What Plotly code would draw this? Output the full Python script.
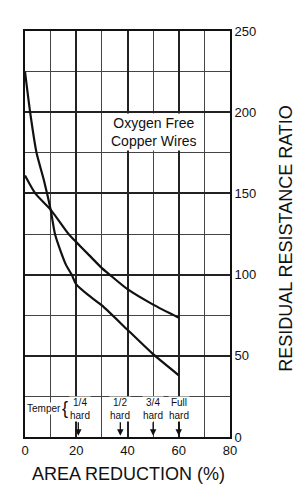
import plotly.graph_objects as go

# Data
area_a = [0, 2, 4.5, 7.4, 10, 11.7, 14, 16, 18.2, 20, 25, 30, 40, 50, 60]
rrr_a = [225, 200, 175, 158, 140, 125, 114, 106, 100, 94, 87, 81, 66, 51, 38]
area_b = [0, 4, 10, 17, 20, 25, 30, 33, 40, 50, 60]
rrr_b = [161, 150, 140, 125, 120, 112, 104, 100, 91, 81.5, 73.5]

x_ticks = [0, 20, 40, 60, 80]
y_ticks = [0, 50, 100, 150, 200, 250]

temper_labels = ["1/4<br>hard", "1/2<br>hard", "3/4<br>hard", "Full<br>hard"]
temper_pos = [20.8, 37.2, 50, 60]
temper_text_shift = [2, 0, 0, 0]

FONT = "Liberation Sans, Arial, Helvetica, sans-serif"

fig = go.Figure()
for xs, ys in [(area_a, rrr_a), (area_b, rrr_b)]:
    fig.add_trace(go.Scatter(x=xs, y=ys, mode="lines",
                             line=dict(color="#111", width=2.2, shape="spline", smoothing=0.6),
                             showlegend=False, hoverinfo="skip"))

ann = []
ann.append(dict(x=50.3, y=187.6, xref="x", yref="y", text="Oxygen Free<br>Copper Wires",
                showarrow=False, font=dict(size=14, color="#111"), bgcolor="white"))
for lab, pos, sh in zip(temper_labels, temper_pos, temper_text_shift):
    ann.append(dict(x=pos, y=17.5, xref="x", yref="y", text=lab, showarrow=False, xshift=sh,
                    font=dict(size=10, color="#111"), bgcolor="white", borderpad=0))
    ann.append(dict(x=pos, y=0.8, xref="x", yref="y", ax=pos, ay=10, axref="x", ayref="y",
                    text="", showarrow=True, arrowhead=2, arrowsize=1, arrowwidth=1.3,
                    arrowcolor="#111"))
ann.append(dict(x=7.6, y=17.4, xref="x", yref="y", text="Temper", showarrow=False,
                font=dict(size=10, color="#111"), bgcolor="white", borderpad=0))
ann.append(dict(x=15.6, y=17.8, xref="x", yref="y", text="{", showarrow=False,
                font=dict(size=18, color="#111"), bgcolor="white", borderpad=0))
ann.append(dict(x=1.275, y=0.489, xref="paper", yref="paper", text="RESIDUAL RESISTANCE RATIO",
                xanchor="center", yanchor="middle",
                textangle=-90, showarrow=False, font=dict(size=18, color="#111")))
ann.append(dict(x=0.507, y=-0.091, xref="paper", yref="paper", text="AREA REDUCTION (%)",
                xanchor="center", yanchor="middle",
                showarrow=False, font=dict(size=18, color="#111")))

fig.update_layout(
    width=306, height=500,
    margin=dict(l=25, r=76, t=31, b=63),
    paper_bgcolor="white", plot_bgcolor="white",
    font=dict(family=FONT, color="#111"),
    annotations=ann,
    xaxis=dict(range=[0, 80], tickmode="linear", tick0=0, dtick=20,
               showgrid=True, gridcolor="#222", gridwidth=1.6,
               minor=dict(tick0=0, dtick=10, showgrid=True, gridcolor="#444", gridwidth=1),
               showline=True, mirror=True, linecolor="#111", linewidth=2, zeroline=False,
               ticks="", tickfont=dict(size=13), fixedrange=True),
    yaxis=dict(range=[0, 250], side="right", tickmode="linear", tick0=0, dtick=50,
               showgrid=True, gridcolor="#222", gridwidth=1.6,
               minor=dict(tick0=0, dtick=25, showgrid=True, gridcolor="#444", gridwidth=1),
               showline=True, mirror=True, linecolor="#111", linewidth=2, zeroline=False,
               ticks="", tickfont=dict(size=13), fixedrange=True),
)

fig.write_html("out.html")
